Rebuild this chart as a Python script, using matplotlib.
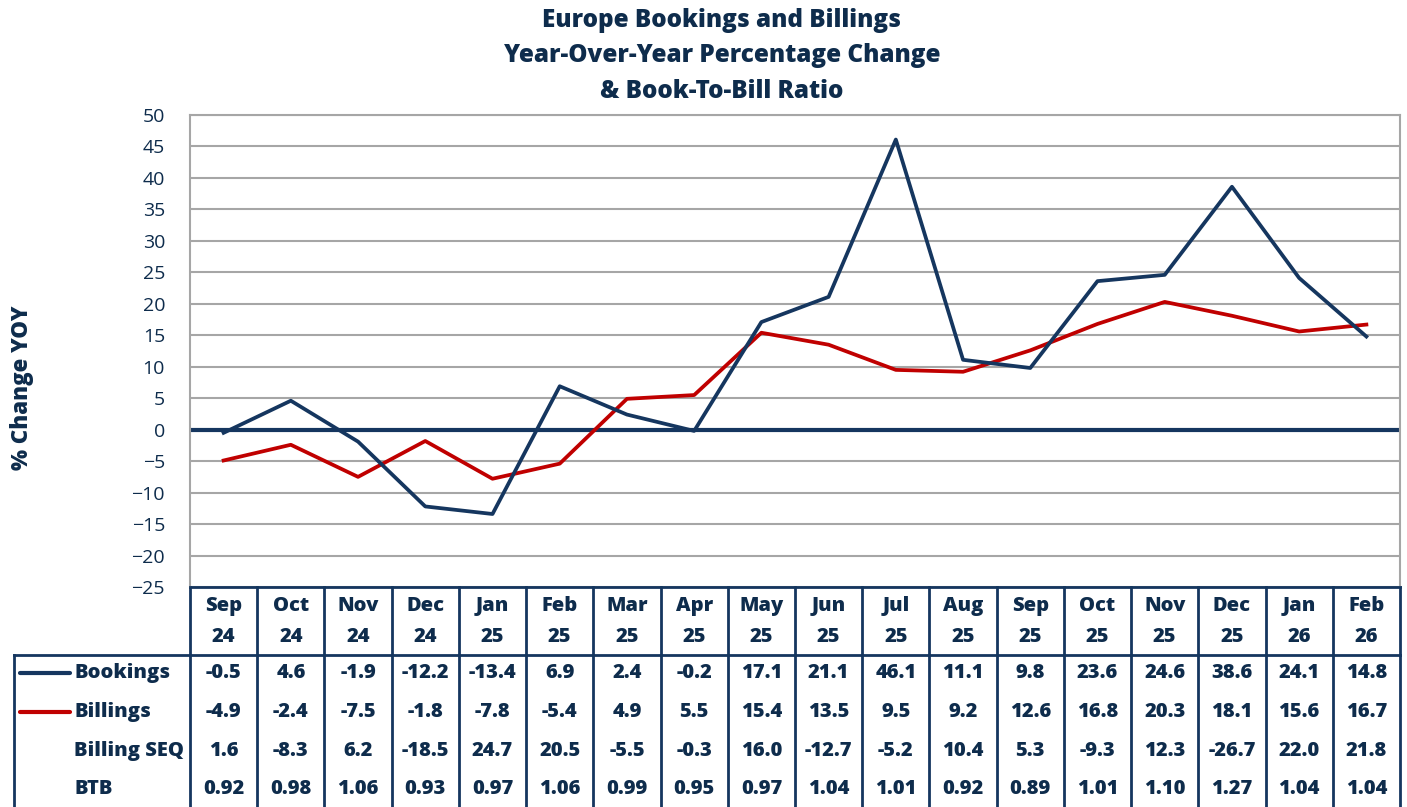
import numpy as np
import matplotlib.pyplot as plt
from matplotlib.transforms import blended_transform_factory

# data
months = ["Sep", "Oct", "Nov", "Dec", "Jan", "Feb", "Mar", "Apr", "May", "Jun",
          "Jul", "Aug", "Sep", "Oct", "Nov", "Dec", "Jan", "Feb"]
years = ["24", "24", "24", "24", "25", "25", "25", "25", "25", "25",
         "25", "25", "25", "25", "25", "25", "26", "26"]
bookings = [-0.5, 4.6, -1.9, -12.2, -13.4, 6.9, 2.4, -0.2, 17.1, 21.1,
            46.1, 11.1, 9.8, 23.6, 24.6, 38.6, 24.1, 14.8]
billings = [-4.9, -2.4, -7.5, -1.8, -7.8, -5.4, 4.9, 5.5, 15.4, 13.5,
            9.5, 9.2, 12.6, 16.8, 20.3, 18.1, 15.6, 16.7]
billing_seq = ["1.6", "-8.3", "6.2", "-18.5", "24.7", "20.5", "-5.5", "-0.3", "16.0", "-12.7",
               "-5.2", "10.4", "5.3", "-9.3", "12.3", "-26.7", "22.0", "21.8"]
btb = ["0.92", "0.98", "1.06", "0.93", "0.97", "1.06", "0.99", "0.95", "0.97", "1.04",
       "1.01", "0.92", "0.89", "1.01", "1.10", "1.27", "1.04", "1.04"]

NAVY = '#15365F'
TXT = '#0E2C4C'
RED = '#C00000'
GRID = '#A6A6A6'

plt.rcParams['font.family'] = ['Open Sans', 'DejaVu Sans']
FW = 'heavy'

W, H = 1407, 807
fig = plt.figure(figsize=(W / 100, H / 100), dpi=100)
x0, x1, ytop, ybot = 190, 1400, 115, 587
ax = fig.add_axes([x0 / W, 1 - ybot / H, (x1 - x0) / W, (ybot - ytop) / H])

x = np.arange(len(months))
ax.set_xlim(-0.5, len(months) - 0.5)
ax.set_ylim(-25, 50)
ax.set_yticks(np.arange(-25, 51, 5))
ax.set_xticks([])
ax.grid(axis='y', color=GRID, linewidth=1.5)
ax.set_axisbelow(True)
ax.axhline(0, color=NAVY, linewidth=3)
ax.tick_params(axis='y', length=0, pad=18, labelsize=14, labelcolor=TXT)
for s in ['left', 'top', 'right']:
    ax.spines[s].set_color(GRID)
    ax.spines[s].set_linewidth(1.5)
ax.spines['bottom'].set_color(NAVY)
ax.spines['bottom'].set_linewidth(2)

ax.plot(x, billings, color=RED, linewidth=2.7, zorder=3)
ax.plot(x, bookings, color=NAVY, linewidth=2.7, zorder=4)

fig.text(722 / W, 1 - 56 / H,
         "Europe Bookings and Billings\nYear-Over-Year Percentage Change\n& Book-To-Bill Ratio",
         ha='center', va='center', fontsize=17.5, fontweight=FW, color=TXT, linespacing=1.55)
fig.text(22 / W, 1 - 388 / H, "% Change YOY", rotation=90, ha='center', va='center',
         fontsize=16, fontweight=FW, color=TXT)

# table below the axis
tr = blended_transform_factory(ax.transData, ax.transAxes)


def ay(p):
    return (ybot - p) / (ybot - ytop)


colw = (x1 - x0) / len(months)
xleft = -0.5 + (14 - x0) / colw
for i in range(len(months) + 1):
    xi = i - 0.5
    ax.plot([xi, xi], [ay(587), ay(655)], color=NAVY, lw=2, transform=tr, clip_on=False)
    ax.plot([xi, xi], [ay(655), ay(810)], color=NAVY, lw=2, transform=tr, clip_on=False)
ax.plot([xleft, xleft], [ay(655), ay(810)], color=NAVY, lw=2, transform=tr, clip_on=False)
ax.plot([xleft, len(months) - 0.5], [ay(655), ay(655)], color=NAVY, lw=2, transform=tr, clip_on=False)

for i in range(len(months)):
    ax.text(i, ay(606), months[i], ha='center', va='center', fontsize=14.5, fontweight=FW,
            color=TXT, transform=tr)
    ax.text(i, ay(637), years[i], ha='center', va='center', fontsize=14.5, fontweight=FW,
            color=TXT, transform=tr)

rows = [("Bookings", ["%.1f" % v for v in bookings], NAVY, 673),
        ("Billings", ["%.1f" % v for v in billings], RED, 712),
        ("Billing SEQ", billing_seq, None, 751),
        ("BTB", btb, None, 789)]
lx0 = xleft + (20 - 14) / colw
lx1 = xleft + (70 - 14) / colw
tx = xleft + (74 - 14) / colw
for name, vals, c, py in rows:
    if c is not None:
        ax.plot([lx0, lx1], [ay(py), ay(py)], color=c, lw=3, transform=tr, clip_on=False,
                solid_capstyle='round')
    ax.text(tx, ay(py), name, ha='left', va='center', fontsize=14.5, fontweight=FW,
            color=TXT, transform=tr)
    for i, v in enumerate(vals):
        ax.text(i, ay(py), v, ha='center', va='center', fontsize=14.5, fontweight=FW,
                color=TXT, transform=tr)

fig.savefig('out.png', dpi=100)
